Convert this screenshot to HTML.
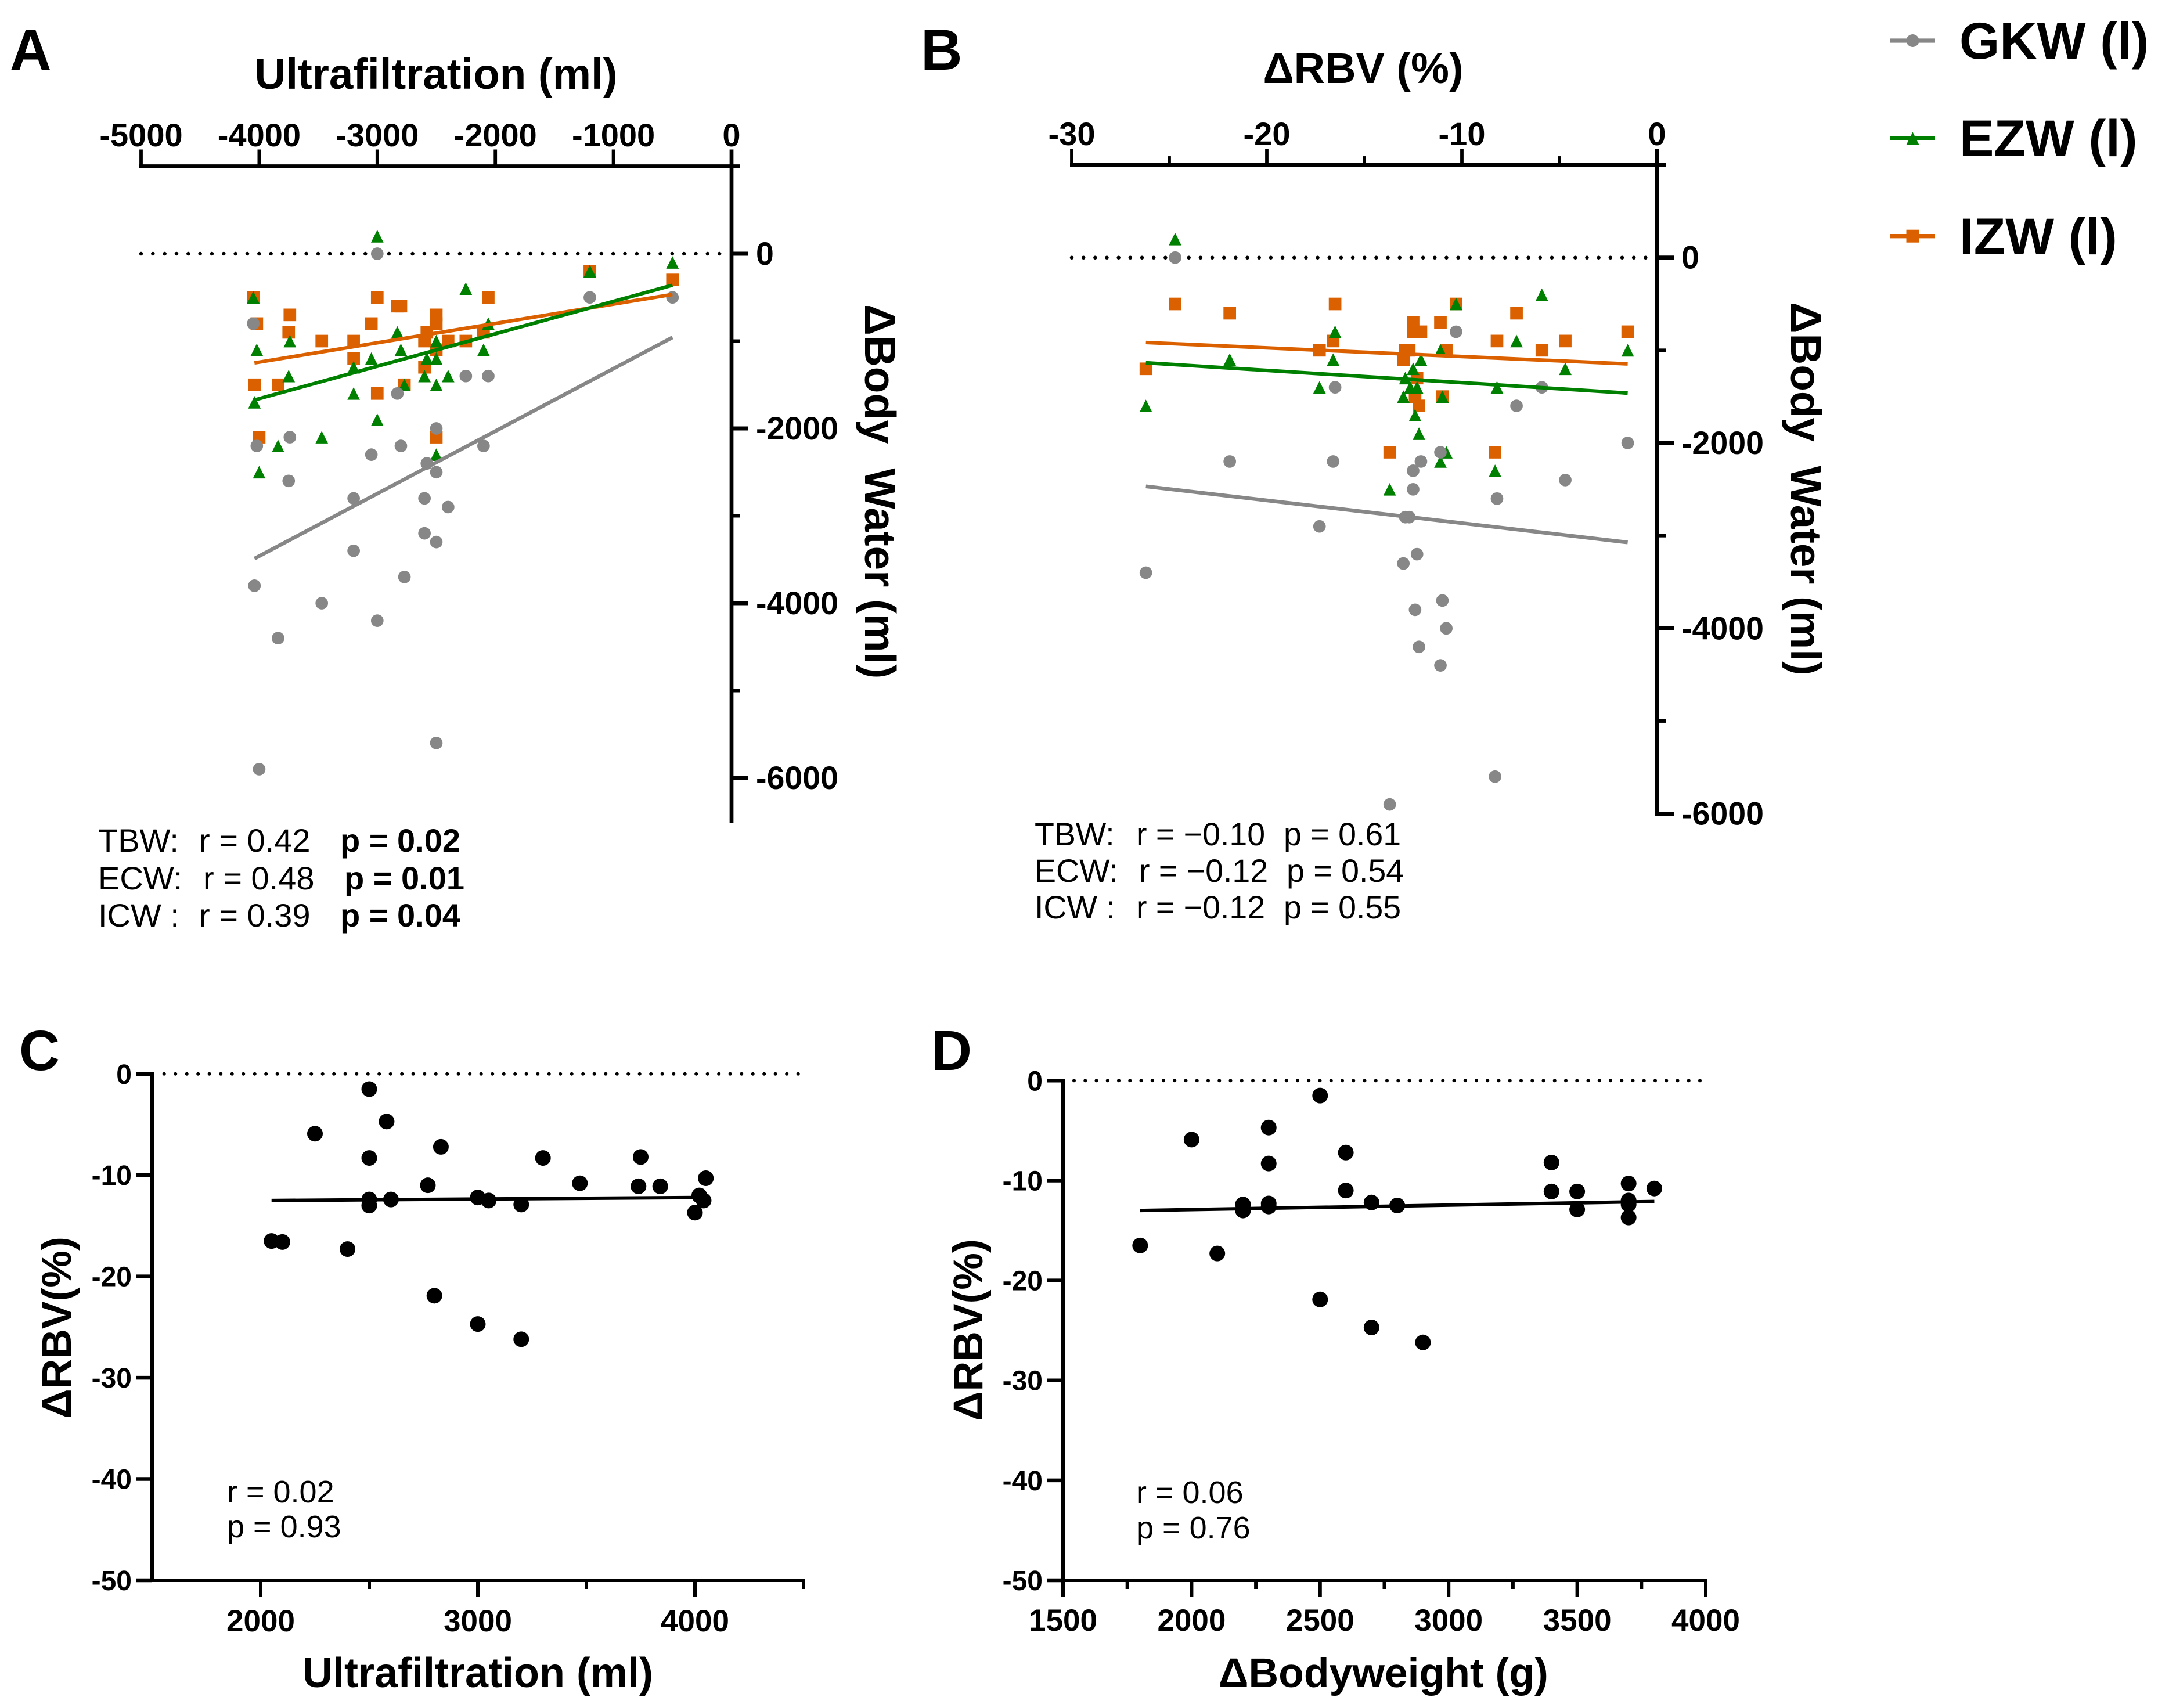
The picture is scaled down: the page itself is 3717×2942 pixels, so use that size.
<!DOCTYPE html>
<html lang="en">
<head>
<meta charset="utf-8">
<title>Body water and relative blood volume correlations</title>
<style>
html,body{margin:0;padding:0;background:#fff;}
svg{display:block;font-family:"Liberation Sans",sans-serif;}
text{fill:#000;white-space:pre;}
.b{font-weight:700;}
</style>
</head>
<body>
<svg id="figure" xmlns="http://www.w3.org/2000/svg" width="3717" height="2942" viewBox="0 0 3717 2942">
<rect x="0" y="0" width="3717" height="2942" fill="#ffffff"/>

<g id="panel-a"></g>
<g id="panel-b"></g>
<g id="panel-c"></g>
<g id="panel-d"></g>
<g id="legend"></g>

<text class="b" x="17" y="120" font-size="99">A</text>
<text class="b" x="1586" y="120" font-size="99">B</text>
<text class="b" x="33" y="1843" font-size="97">C</text>
<text class="b" x="1604" y="1843" font-size="97">D</text>

<text class="b" x="751" y="153" font-size="74.5" text-anchor="middle">Ultrafiltration (ml)</text>
<text class="b" x="2348" y="143" font-size="74" text-anchor="middle">ΔRBV (%)</text>
<text class="b" transform="translate(1490,524) rotate(90)" font-size="74.8">ΔBody  Water (ml)</text>
<text class="b" transform="translate(3085,521) rotate(90)" font-size="74.5">ΔBody  Water (ml)</text>

<text class="b" x="823" y="2906" font-size="72" text-anchor="middle">Ultrafiltration (ml)</text>
<text class="b" x="2383" y="2906" font-size="71.5" text-anchor="middle">ΔBodyweight (g)</text>
<text class="b" transform="translate(122,2287) rotate(-90)" font-size="71.5" text-anchor="middle">ΔRBV(%)</text>
<text class="b" transform="translate(1692,2291) rotate(-90)" font-size="71.5" text-anchor="middle">ΔRBV(%)</text>

<g font-size="56">
<text y="1467"><tspan x="169">TBW:</tspan><tspan x="343">r = 0.42</tspan><tspan x="586" class="b">p = 0.02</tspan></text>
<text y="1532"><tspan x="169">ECW:</tspan><tspan x="350">r = 0.48</tspan><tspan x="593" class="b">p = 0.01</tspan></text>
<text y="1596"><tspan x="169">ICW :</tspan><tspan x="343">r = 0.39</tspan><tspan x="586" class="b">p = 0.04</tspan></text>
</g>
<g font-size="55.5">
<text y="1456"><tspan x="1782">TBW:</tspan><tspan x="1957">r = −0.10</tspan><tspan x="2211">p = 0.61</tspan></text>
<text y="1519"><tspan x="1782">ECW:</tspan><tspan x="1962">r = −0.12</tspan><tspan x="2216">p = 0.54</tspan></text>
<text y="1582"><tspan x="1782">ICW :</tspan><tspan x="1957">r = −0.12</tspan><tspan x="2211">p = 0.55</tspan></text>
</g>
<g font-size="54">
<text x="391" y="2588">r = 0.02</text>
<text x="391" y="2648">p = 0.93</text>
</g>
<g font-size="54">
<text x="1957" y="2589">r = 0.06</text>
<text x="1957" y="2650">p = 0.76</text>
</g>

<text class="b" x="3375" y="101" font-size="89">GKW (l)</text>
<text class="b" x="3375" y="269" font-size="89">EZW (l)</text>
<text class="b" x="3375" y="438" font-size="89">IZW (l)</text>
</svg>

<script>
/* Panel A: Ultrafiltration vs change in body water */
const aGkwX = [-3000,-1200,-500,-4050,-2250,-2060,-2830,-2500,-3740,-4020,-2100,-2800,-3050,-2580,-2500,-3750,-3200,-2600,-2400,-2600,-2500,-3200,-2770,-4040,-3470,-3000,-3840,-2500,-4000];
const aGkwY = [0,-500,-500,-800,-1400,-1400,-1600,-2000,-2100,-2200,-2200,-2200,-2300,-2400,-2500,-2600,-2800,-2800,-2900,-3200,-3300,-3400,-3700,-3800,-4000,-4200,-4400,-5600,-5900];
const aEzwX = [-3000,-500,-1200,-4050,-2250,-2060,-2830,-2500,-4020,-3740,-2800,-2100,-3050,-2580,-2500,-3200,-3750,-2600,-2400,-2770,-2500,-3200,-4040,-3000,-3470,-3840,-2500,-4000];
const aEzwY = [200,-100,-200,-500,-400,-800,-900,-1000,-1100,-1000,-1100,-1100,-1200,-1200,-1200,-1300,-1400,-1400,-1400,-1500,-1500,-1600,-1700,-1900,-2100,-2200,-2300,-2500];
const aIzwX = [-1200,-500,-4050,-3000,-2060,-2830,-2800,-2500,-3740,-4020,-3050,-2500,-3750,-2580,-2100,-3470,-3200,-2600,-2400,-2250,-2500,-3200,-2600,-4040,-3840,-2770,-3000,-4000,-2500];
const aIzwY = [-200,-300,-500,-500,-500,-600,-600,-700,-700,-800,-800,-800,-900,-900,-900,-1000,-1000,-1000,-1000,-1000,-1100,-1200,-1300,-1500,-1500,-1500,-1600,-2100,-2100];
const aFitX = [-4040,-500];
const aGkwFitY = [-3490,-958];
const aEzwFitY = [-1674,-360];
const aIzwFitY = [-1250,-466];
const aXMajor = [-5000,-4000,-3000,-2000,-1000,0];
const aXLabels = ['-5000','-4000','-3000','-2000','-1000','0'];
const aYMajor = [0,-2000,-4000,-6000];
const aYMinor = [1000,-1000,-3000,-5000];
const aYLabels = ['0','-2000','-4000','-6000'];

/* Panel B: change in RBV vs change in body water */
const bGkwX = [-24.7,-10.3,-16.5,-5.9,-7.2,-1.5,-11.1,-21.9,-16.6,-12.1,-12.5,-4.7,-12.5,-8.2,-12.9,-12.7,-17.3,-12.3,-13,-26.2,-11,-12.4,-10.8,-12.2,-11.1,-8.3,-13.7];
const bGkwY = [0,-800,-1400,-1400,-1600,-2000,-2100,-2200,-2200,-2200,-2300,-2400,-2500,-2600,-2800,-2800,-2900,-3200,-3300,-3400,-3700,-3800,-4000,-4200,-4400,-5600,-5900];
const bEzwX = [-24.7,-5.9,-10.3,-16.5,-11.1,-7.2,-1.5,-21.9,-16.6,-12.1,-12.5,-4.7,-12.9,-17.3,-8.2,-12.65,-12.3,-13,-11,-26.2,-12.4,-12.2,-10.8,-11.1,-8.3,-13.7];
const bEzwY = [200,-400,-500,-800,-1000,-900,-1000,-1100,-1100,-1100,-1200,-1200,-1300,-1400,-1400,-1400,-1400,-1500,-1500,-1600,-1700,-1900,-2100,-2200,-2300,-2500];
const bIzwX = [-24.7,-21.9,-16.5,-10.3,-7.2,-11.1,-12.5,-12.5,-12.1,-1.5,-16.6,-8.2,-4.7,-17.3,-12.9,-12.7,-10.8,-5.9,-13,-26.2,-12.3,-12.4,-11,-12.2,-13.7,-8.3];
const bIzwY = [-500,-600,-500,-500,-600,-700,-700,-800,-800,-800,-900,-900,-900,-1000,-1000,-1000,-1000,-1000,-1100,-1200,-1300,-1500,-1500,-1600,-2100,-2100];
const bFitX = [-26.2,-1.5];
const bGkwFitY = [-2468,-3073];
const bEzwFitY = [-1135,-1462];
const bIzwFitY = [-916,-1147];
const bXMajor = [-30,-20,-10,0];
const bXMinor = [-25,-15,-5];
const bXLabels = ['-30','-20','-10','0'];
const bYMajor = [0,-2000,-4000,-6000];
const bYMinor = [1000,-1000,-3000,-5000];
const bYLabels = ['0','-2000','-4000','-6000'];

/* Panel C: Ultrafiltration vs change in RBV */
const cX = [2050,2100,2250,2400,2500,2580,2500,2500,2500,2600,2770,2830,2800,3000,3050,3000,3200,3200,3300,3470,3740,3750,3840,4000,4020,4040,4050];
const cY = [-16.5,-16.6,-5.9,-17.3,-1.5,-4.7,-8.3,-12.4,-13,-12.4,-11,-7.2,-21.9,-12.2,-12.5,-24.7,-12.9,-26.2,-8.3,-10.8,-11.1,-8.2,-11.1,-13.7,-12,-12.5,-10.3];
const cFitX = [2050,4050];
const cFitY = [-12.5,-12.2];
const cXMajor = [2000,3000,4000];
const cXMinor = [2500,3500,4500];
const cXLabels = ['2000','3000','4000'];
const cYMajor = [0,-10,-20,-30,-40,-50];
const cYLabels = ['0','-10','-20','-30','-40','-50'];

/* Panel D: change in bodyweight vs change in RBV */
const dX = [1800,2000,2100,2200,2200,2300,2300,2300,2300,2500,2500,2600,2600,2700,2700,2800,2900,3400,3400,3500,3500,3700,3700,3700,3700,3800];
const dY = [-16.5,-5.9,-17.3,-12.4,-13,-4.7,-8.3,-12.3,-12.6,-1.5,-21.9,-7.2,-11,-12.2,-24.7,-12.5,-26.2,-8.2,-11.1,-11.1,-12.9,-10.3,-12,-12.4,-13.7,-10.8];
const dFitX = [1800,3800];
const dFitY = [-13,-12.1];
const dXMajor = [1500,2000,2500,3000,3500,4000];
const dXMinor = [1750,2250,2750,3250,3750];
const dXLabels = ['1500','2000','2500','3000','3500','4000'];
const dYMajor = [0,-10,-20,-30,-40,-50];
const dYLabels = ['0','-10','-20','-30','-40','-50'];

const legendKeys = ['gkw','ezw','izw'];

const SVG_NS = 'http://www.w3.org/2000/svg';
const GRAY = '#878787';
const GREEN = '#008000';
const ORANGE = '#db6100';
const INK = '#000000';

function linear(d0, d1, r0, r1) {
  return function (v) { return r0 + (v - d0) * (r1 - r0) / (d1 - d0); };
}
function make(tag, parent) {
  const el = document.createElementNS(SVG_NS, tag);
  parent.appendChild(el);
  return el;
}
function drawLine(parent, x1, y1, x2, y2, color, width, name) {
  const el = make('line', parent);
  el.setAttribute('x1', x1);
  el.setAttribute('y1', y1);
  el.setAttribute('x2', x2);
  el.setAttribute('y2', y2);
  el.setAttribute('stroke', color);
  el.setAttribute('stroke-width', width);
  
  
  return el;
}
function drawLabel(parent, x, y, str, anchor, size, name) {
  const el = make('text', parent);
  el.setAttribute('x', x);
  el.setAttribute('y', y);
  el.setAttribute('text-anchor', anchor);
  el.setAttribute('font-size', size);
  el.setAttribute('font-weight', '700');
  el.textContent = str;
  
  
  return el;
}
function drawDotted(parent, x1, x2, y, period, width, name) {
  const el = drawLine(parent, x1, y, x2, y, INK, width, name);
  el.setAttribute('stroke-linecap', 'round');
  el.setAttribute('stroke-dasharray', '0 ' + period);
  return el;
}
function circle(parent, cx, cy, size, color, name) {
  const el = make('circle', parent);
  el.setAttribute('cx', cx);
  el.setAttribute('cy', cy);
  el.setAttribute('r', size / 2);
  el.setAttribute('fill', color);
  
  
}
function square(parent, cx, cy, size, color, name) {
  const el = make('rect', parent);
  el.setAttribute('x', cx - size / 2);
  el.setAttribute('y', cy - size / 2);
  el.setAttribute('width', size);
  el.setAttribute('height', size);
  el.setAttribute('fill', color);
  
  
}
function triangle(parent, cx, cy, size, color, name) {
  const el = make('polygon', parent);
  const h = size / 2;
  el.setAttribute('points', cx + ',' + (cy - h) + ' ' + (cx + h) + ',' + (cy + h) + ' ' + (cx - h) + ',' + (cy + h));
  el.setAttribute('fill', color);
  
  
}
function scatter(parent, xs, ys, sx, sy, shape, size, color, name) {
  for (let i = 0; i < xs.length; i++) {
    shape(parent, sx(xs[i]), sy(ys[i]), size, color, name);
  }
}
function drawFit(parent, fx, fy, sx, sy, color, width, name) {
  drawLine(parent, sx(fx[0]), sy(fy[0]), sx(fx[1]), sy(fy[1]), color, width, name);
}

/* Top-axis panels (A and B) */
function drawTopPanel(cfg) {
  const p = document.getElementById(cfg.id);
  const sx = cfg.sx, sy = cfg.sy;
  const axisW = 6.7;
  const axisY = sy(1000);
  const axisX = sx(0);
  drawDotted(p, sx(cfg.xMin), cfg.dotEnd, sy(0), cfg.dotPeriod, 6.5, 'zero-reference-line');
  scatter(p, cfg.izw[0], cfg.izw[1], sx, sy, square, 21.7, ORANGE, 'izw-point');
  scatter(p, cfg.ezw[0], cfg.ezw[1], sx, sy, triangle, 21.7, GREEN, 'ezw-point');
  scatter(p, cfg.gkw[0], cfg.gkw[1], sx, sy, circle, 21.7, GRAY, 'gkw-point');
  drawFit(p, cfg.fitX, cfg.gkwFit, sx, sy, GRAY, 6.5, 'gkw-fit-line');
  drawFit(p, cfg.fitX, cfg.izwFit, sx, sy, ORANGE, 6.2, 'izw-fit-line');
  drawFit(p, cfg.fitX, cfg.ezwFit, sx, sy, GREEN, 6.2, 'ezw-fit-line');
  drawLine(p, sx(cfg.xMin) - 3, axisY, axisX + cfg.minorLen, axisY, INK, axisW, 'x-axis-line');
  drawLine(p, axisX, axisY - cfg.xMajorLen, axisX, cfg.yEnd, INK, axisW, 'y-axis-line');
  cfg.xMajor.forEach(function (v, i) {
    drawLine(p, sx(v), axisY, sx(v), axisY - cfg.xMajorLen, INK, 5.8, 'x-axis-tick');
    drawLabel(p, sx(v), cfg.xLabelY, cfg.xLabels[i], 'middle', 56, 'x-axis-tick-label');
  });
  cfg.xMinor.forEach(function (v) {
    drawLine(p, sx(v), axisY, sx(v), axisY - cfg.xMinorLen, INK, 5.8, 'x-axis-minor-tick');
  });
  cfg.yMajor.forEach(function (v, i) {
    drawLine(p, axisX, sy(v), axisX + cfg.majorLen, sy(v), INK, 7, 'y-axis-tick');
    drawLabel(p, cfg.yLabelX, sy(v) + 19, cfg.yLabels[i], 'start', 55.5, 'y-axis-tick-label');
  });
  cfg.yMinor.forEach(function (v) {
    drawLine(p, axisX, sy(v), axisX + cfg.minorLen, sy(v), INK, 6, 'y-axis-minor-tick');
  });
}

drawTopPanel({
  id: 'panel-a',
  sx: linear(-5000, 0, 243, 1260),
  sy: linear(0, -6000, 437, 1340),
  xMin: -5000, dotEnd: 1245, dotPeriod: 20.33, yEnd: 1418,
  gkw: [aGkwX, aGkwY], ezw: [aEzwX, aEzwY], izw: [aIzwX, aIzwY],
  fitX: aFitX, gkwFit: aGkwFitY, ezwFit: aEzwFitY, izwFit: aIzwFitY,
  xMajor: aXMajor, xMinor: [], xLabels: aXLabels, xLabelY: 252,
  yMajor: aYMajor, yMinor: aYMinor, yLabels: aYLabels, yLabelX: 1302,
  xMajorLen: 29, xMinorLen: 14, majorLen: 28, minorLen: 15
});
drawTopPanel({
  id: 'panel-b',
  sx: linear(-30, 0, 1846, 2854),
  sy: linear(0, -6000, 443.7, 1401.6),
  xMin: -30, dotEnd: 2838, dotPeriod: 20.17, yEnd: 1405,
  gkw: [bGkwX, bGkwY], ezw: [bEzwX, bEzwY], izw: [bIzwX, bIzwY],
  fitX: bFitX, gkwFit: bGkwFitY, ezwFit: bEzwFitY, izwFit: bIzwFitY,
  xMajor: bXMajor, xMinor: bXMinor, xLabels: bXLabels, xLabelY: 250,
  yMajor: bYMajor, yMinor: bYMinor, yLabels: bYLabels, yLabelX: 2896,
  xMajorLen: 28, xMinorLen: 15, majorLen: 29, minorLen: 15
});

/* Bottom panels (C and D) */
function drawBottomPanel(cfg) {
  const p = document.getElementById(cfg.id);
  const sx = cfg.sx, sy = cfg.sy;
  const axisX = sx(cfg.xMin);
  const axisY = sy(-50);
  drawDotted(p, cfg.dotStart, cfg.dotEnd, sy(0), cfg.dotPeriod, 6, 'zero-reference-line');
  scatter(p, cfg.xs, cfg.ys, sx, sy, circle, 27, INK, 'rbv-point');
  drawFit(p, cfg.fitX, cfg.fitY, sx, sy, INK, 6, 'fit-line');
  drawLine(p, axisX, sy(0) - 3, axisX, axisY + 3, INK, 6.3, 'y-axis-line');
  drawLine(p, axisX, axisY, sx(cfg.xMax) + 3, axisY, INK, 6, 'x-axis-line');
  cfg.yMajor.forEach(function (v, i) {
    drawLine(p, axisX - 27, sy(v), axisX, sy(v), INK, 6.5, 'y-axis-tick');
    drawLabel(p, axisX - 35, sy(v) + 17, cfg.yLabels[i], 'end', 48, 'y-axis-tick-label');
  });
  cfg.xMajor.forEach(function (v, i) {
    if (v !== cfg.xMin || cfg.originTick) {
      drawLine(p, sx(v), axisY, sx(v), axisY + 29, INK, 6, 'x-axis-tick');
    }
    drawLabel(p, sx(v), cfg.xLabelY, cfg.xLabels[i], 'middle', 53, 'x-axis-tick-label');
  });
  cfg.xMinor.forEach(function (v) {
    drawLine(p, sx(v), axisY, sx(v), axisY + 15, INK, 6, 'x-axis-minor-tick');
  });
}

drawBottomPanel({
  id: 'panel-c',
  sx: linear(2000, 4000, 449, 1197),
  sy: linear(0, -50, 1849.8, 2722),
  xMin: 1500, xMax: 4500, dotStart: 282.7, dotEnd: 1378, dotPeriod: 19.5,
  xs: cX, ys: cY, fitX: cFitX, fitY: cFitY,
  xMajor: cXMajor, xMinor: cXMinor, xLabels: cXLabels, xLabelY: 2810,
  yMajor: cYMajor, yLabels: cYLabels, originTick: false
});
drawBottomPanel({
  id: 'panel-d',
  sx: linear(1500, 4000, 1831, 2938),
  sy: linear(0, -50, 1861.3, 2722),
  xMin: 1500, xMax: 4000, dotStart: 1850, dotEnd: 2934, dotPeriod: 19.25,
  xs: dX, ys: dY, fitX: dFitX, fitY: dFitY,
  xMajor: dXMajor, xMinor: dXMinor, xLabels: dXLabels, xLabelY: 2809,
  yMajor: dYMajor, yLabels: dYLabels, originTick: true
});

/* Legend keys */
const legendGroup = document.getElementById('legend');
const legendRowY = linear(0, 2, 70, 406.7);
legendKeys.forEach(function (key, i) {
  const y = legendRowY(i);
  const color = key === 'gkw' ? GRAY : key === 'ezw' ? GREEN : ORANGE;
  const shape = key === 'gkw' ? circle : key === 'ezw' ? triangle : square;
  drawLine(legendGroup, 3256, y, 3333, y, color, 7.3, key + '-legend-line');
  shape(legendGroup, 3294.5, y, 22, color, key + '-legend-marker');
});
</script>
</body>
</html>
